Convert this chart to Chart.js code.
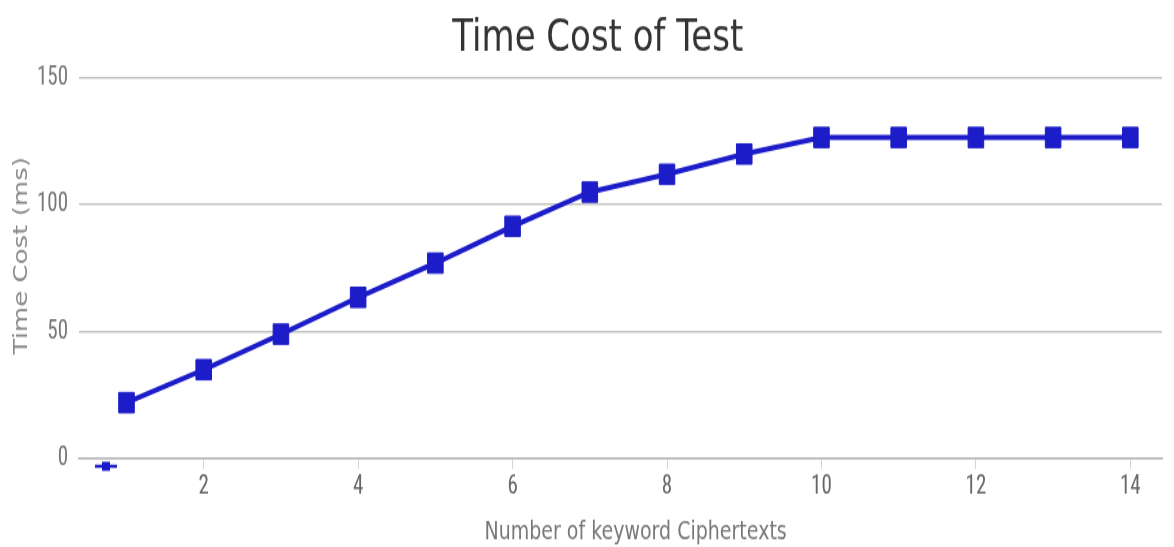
<!DOCTYPE html>
<html>
<head>
<meta charset="utf-8">
<script src="https://cdn.jsdelivr.net/npm/chart.js@4/dist/chart.umd.min.js"></script>
<style>
  html, body { margin: 0; padding: 0; background: #fff; overflow: hidden; }
  /* the chart is drawn 420px tall and shown stretched to 547px */
  #timeChart { display: block; width: 1174px !important; height: 547px !important; }
</style>
</head>
<body>
<canvas id="timeChart" width="1174" height="420"></canvas>
<script>
// number of keyword ciphertexts vs. test time (ms)
const ciphertextCounts = [1, 2, 3, 4, 5, 6, 7, 8, 9, 10, 11, 12, 13, 14];
const testTimes = [22, 35, 49, 63.5, 77, 91.5, 105, 112, 120, 126.5, 126.5, 126.5, 126.5, 126.5];
const yTicks = [0, 50, 100, 150];
const xTicks = [2, 4, 6, 8, 10, 12, 14];

const LINE_BLUE = "#1c1cc8";
const narrowFont = "'Roboto Condensed', 'DejaVu Sans Condensed', sans-serif";
const plainFont = "'DejaVu Sans', sans-serif";

// small legend glyph under the start of the x axis
const legendGlyph = {
  id: "legendGlyph",
  afterDraw(chart) {
    const { ctx, chartArea } = chart;
    const x = chartArea.left + 27, y = chartArea.bottom + 6;
    ctx.save();
    ctx.strokeStyle = LINE_BLUE;
    ctx.lineWidth = 2.5;
    ctx.beginPath();
    ctx.moveTo(x - 11, y);
    ctx.lineTo(x + 11, y);
    ctx.stroke();
    ctx.fillStyle = LINE_BLUE;
    ctx.fillRect(x - 4, y - 3.5, 8, 7);
    ctx.restore();
  }
};

const ctx = document.getElementById("timeChart").getContext("2d");
const timeChart = new Chart(ctx, {
  type: "line",
  data: {
    datasets: [
      {
        label: "",
        data: ciphertextCounts.map((n, i) => ({ x: n, y: testTimes[i] })),
        borderColor: LINE_BLUE,
        backgroundColor: LINE_BLUE,
        borderWidth: 4,
        pointStyle: "rect",
        pointRadius: 11,
        pointBorderWidth: 1,
        pointBorderColor: LINE_BLUE,
        pointBackgroundColor: LINE_BLUE,
        tension: 0,
      },
    ],
  },
  options: {
    responsive: false,
    animation: false,
    devicePixelRatio: 1,
    layout: { padding: 0 },
    plugins: {
      legend: { display: false },
      tooltip: { enabled: false },
      title: {
        display: true,
        // leading spaces nudge the centred title a little to the right
        text: "  Time Cost of Test",
        color: "#333",
        font: { family: plainFont, size: 34, weight: "normal", lineHeight: 1.2 },
        padding: { top: 10, bottom: 9 },
      },
    },
    scales: {
      x: {
        type: "linear",
        min: 0.385,
        max: 14.41,
        afterBuildTicks: (scale) => { scale.ticks = xTicks.map(v => ({ value: v })); },
        afterFit: (scale) => { scale.height = 68; },
        grid: {
          display: true,
          drawOnChartArea: false,
          drawTicks: true,
          tickLength: 8,
          tickColor: "#d4d4d4",
          tickWidth: 1,
        },
        border: { display: true, color: "#c0c0c0", width: 2 },
        ticks: {
          color: "#666",
          padding: 1,
          maxRotation: 0,
          font: { family: narrowFont, size: 21 },
        },
        title: {
          display: true,
          text: "     Number of keyword Ciphertexts",
          color: "#777",
          font: { family: plainFont, size: 19 },
          padding: { top: 0, bottom: 0 },
        },
      },
      y: {
        min: 0,
        max: 150,
        afterBuildTicks: (scale) => { scale.ticks = yTicks.map(v => ({ value: v })); },
        afterFit: (scale) => { scale.width = 79; },
        grid: {
          color: "#c4c4c4",
          lineWidth: 1.6,
          drawTicks: false,
        },
        border: { display: false },
        ticks: {
          color: "#777",
          padding: 11,
          font: { family: narrowFont, size: 21 },
        },
        title: {
          display: true,
          // rotated text: leading spaces push it up a bit
          text: "   Time Cost (ms)",
          color: "#888",
          font: { family: plainFont, size: 20 },
          padding: { top: 10, bottom: 0 },
        },
      },
    },
  },
  plugins: [legendGlyph],
});
</script>
</body>
</html>
